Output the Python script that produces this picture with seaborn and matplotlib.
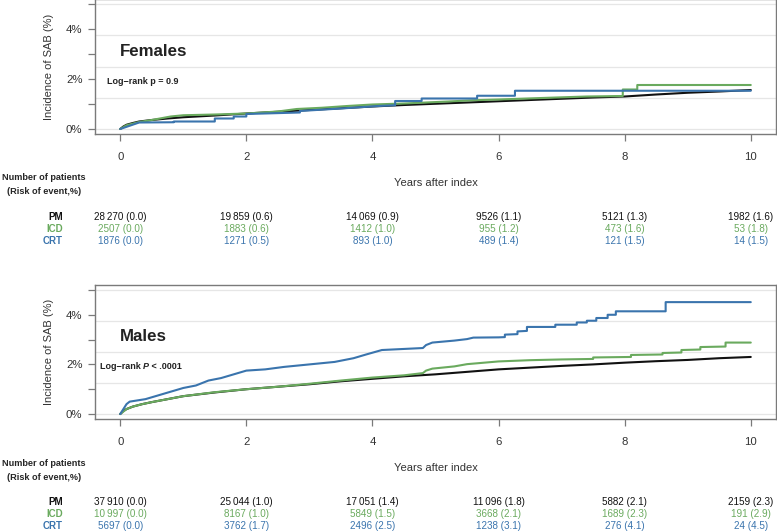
import numpy as np
import pandas as pd
import matplotlib
matplotlib.use("Agg")
import matplotlib.pyplot as plt
import matplotlib.transforms as mtransforms
import seaborn as sns

# ---- data ----
groups = ["PM", "ICD", "CRT"]
colors = {"PM": "#111111", "ICD": "#6aaa5e", "CRT": "#3a74ad"}
table_years = [0, 2, 4, 6, 8, 10]

# Females: cumulative incidence (%); repeated times mark the visible jumps
f_pm_t = [0, 0.05, 0.1, 0.2, 0.3, 0.5, 0.75, 1.0, 1.5, 2.0, 2.5, 3.0, 3.5, 4.0, 4.5, 5.0,
          5.5, 6.0, 6.5, 7.0, 7.5, 8.0, 8.5, 9.0, 9.5, 10.0]
f_pm_v = [0, 0.1, 0.17, 0.24, 0.3, 0.36, 0.42, 0.47, 0.54, 0.62, 0.69, 0.76, 0.83, 0.9, 0.96, 1.01,
          1.06, 1.11, 1.16, 1.21, 1.26, 1.3, 1.38, 1.45, 1.5, 1.56]
f_icd_t = [0, 0.1, 0.3, 0.5, 0.8, 1.0, 1.5, 2.0, 2.5, 2.8, 3.2, 3.6, 4.0, 4.5, 5.2, 5.6, 6.0,
           6.8, 7.4, 7.97, 7.97, 8.2, 8.2, 10.0]
f_icd_v = [0, 0.15, 0.28, 0.36, 0.5, 0.55, 0.58, 0.62, 0.7, 0.8, 0.85, 0.92, 0.98, 1.02, 1.1, 1.15, 1.18,
           1.25, 1.3, 1.32, 1.58, 1.58, 1.76, 1.76]
f_crt_t = [0, 0.3, 0.85, 0.85, 1.5, 1.5, 1.8, 1.8, 2.0, 2.0, 2.85, 2.85, 3.5, 4.1, 4.36, 4.36,
           4.78, 4.78, 5.66, 5.66, 6.26, 6.26, 10.0]
f_crt_v = [0, 0.26, 0.27, 0.3, 0.3, 0.42, 0.42, 0.5, 0.5, 0.6, 0.66, 0.72, 0.82, 0.92, 0.95, 1.12,
           1.12, 1.22, 1.22, 1.33, 1.33, 1.53, 1.53]

# Males
m_pm_t = [0, 0.05, 0.1, 0.2, 0.35, 0.5, 0.75, 1.0, 1.5, 2.0, 2.5, 3.0, 3.5, 4.0, 4.5, 5.0,
          5.5, 6.0, 6.5, 7.0, 7.5, 8.0, 8.5, 9.0, 9.5, 10.0]
m_pm_v = [0, 0.12, 0.2, 0.3, 0.4, 0.48, 0.6, 0.72, 0.87, 1.0, 1.1, 1.2, 1.32, 1.42, 1.52, 1.6,
          1.7, 1.8, 1.87, 1.94, 2.0, 2.07, 2.13, 2.18, 2.25, 2.3]
m_icd_t = [0, 0.1, 0.2, 0.35, 0.5, 0.75, 1.0, 1.5, 2.0, 2.5, 3.0, 3.5, 4.0, 4.5, 4.8, 4.85, 4.95,
           5.3, 5.5, 6.0, 6.5, 7.0, 7.5, 7.5, 8.1, 8.1, 8.6, 8.6, 8.9, 8.9, 9.2, 9.2, 9.6, 9.6, 10.0]
m_icd_v = [0, 0.2, 0.3, 0.4, 0.48, 0.6, 0.72, 0.88, 1.0, 1.1, 1.22, 1.35, 1.47, 1.56, 1.65, 1.75, 1.83,
           1.92, 2.01, 2.12, 2.17, 2.2, 2.22, 2.28, 2.3, 2.38, 2.4, 2.46, 2.48, 2.58, 2.6, 2.7, 2.72, 2.88, 2.88]
m_crt_t = [0, 0.1, 0.15, 0.4, 0.6, 0.8, 1.0, 1.2, 1.4, 1.6, 1.8, 2.0, 2.3, 2.6, 3.0, 3.4, 3.7, 3.9,
           4.15, 4.8, 4.85, 4.95, 5.3, 5.5, 5.6, 6.0, 6.1, 6.1, 6.3, 6.3, 6.45, 6.45, 6.9, 6.9,
           7.24, 7.24, 7.4, 7.4, 7.55, 7.55, 7.73, 7.73, 7.86, 7.86, 8.65, 8.65, 10.0]
m_crt_v = [0, 0.4, 0.5, 0.6, 0.75, 0.9, 1.05, 1.15, 1.35, 1.45, 1.6, 1.75, 1.8, 1.9, 2.0, 2.1, 2.25, 2.4,
           2.58, 2.66, 2.78, 2.88, 2.96, 3.02, 3.08, 3.09, 3.1, 3.2, 3.22, 3.33, 3.35, 3.51, 3.51, 3.6,
           3.6, 3.69, 3.69, 3.76, 3.76, 3.87, 3.87, 4.0, 4.0, 4.14, 4.14, 4.51, 4.51]

# numbers at risk and risk of event (%)
f_pm_n = [28270, 19859, 14069, 9526, 5121, 1982]
f_pm_r = [0.0, 0.6, 0.9, 1.1, 1.3, 1.6]
f_icd_n = [2507, 1883, 1412, 955, 473, 53]
f_icd_r = [0.0, 0.6, 1.0, 1.2, 1.6, 1.8]
f_crt_n = [1876, 1271, 893, 489, 121, 14]
f_crt_r = [0.0, 0.5, 1.0, 1.4, 1.5, 1.5]

m_pm_n = [37910, 25044, 17051, 11096, 5882, 2159]
m_pm_r = [0.0, 1.0, 1.4, 1.8, 2.1, 2.3]
m_icd_n = [10997, 8167, 5849, 3668, 1689, 191]
m_icd_r = [0.0, 1.0, 1.5, 2.1, 2.3, 2.9]
m_crt_n = [5697, 3762, 2496, 1238, 276, 24]
m_crt_r = [0.0, 1.7, 2.5, 3.1, 4.1, 4.5]


def curves_df(pm_t, pm_v, icd_t, icd_v, crt_t, crt_v):
    parts = []
    for g, t, v in [("PM", pm_t, pm_v), ("ICD", icd_t, icd_v), ("CRT", crt_t, crt_v)]:
        parts.append(pd.DataFrame({"years": t, "inc": v, "group": g}))
    return pd.concat(parts, ignore_index=True)


females = curves_df(f_pm_t, f_pm_v, f_icd_t, f_icd_v, f_crt_t, f_crt_v)
males = curves_df(m_pm_t, m_pm_v, m_icd_t, m_icd_v, m_crt_t, m_crt_v)

f_table = {"PM": (f_pm_n, f_pm_r), "ICD": (f_icd_n, f_icd_r), "CRT": (f_crt_n, f_crt_r)}
m_table = {"PM": (m_pm_n, m_pm_r), "ICD": (m_icd_n, m_icd_r), "CRT": (m_crt_n, m_crt_r)}

# ---- style ----
sns.set_style("white")
plt.rcParams["font.family"] = ["Liberation Sans", "DejaVu Sans"]
plt.rcParams["axes.edgecolor"] = "#7a7a7a"
plt.rcParams["axes.linewidth"] = 1.0

fig = plt.figure(figsize=(7.77, 5.31), dpi=100)
W, H = 777, 531


def fmt_n(n):
    # thousands separated by a thin space only from five digits on
    if n >= 10000:
        return f"{n:,}".replace(",", "\u2009")
    return str(n)


def draw_panel(ax, df, title, table, px_num, px_years, px_rows, pval):
    for g in groups:
        sns.lineplot(data=df[df["group"] == g], x="years", y="inc", color=colors[g],
                     estimator=None, sort=False, lw=1.5, ax=ax, zorder=3)
    ax.set_xlim(-0.4, 10.4)
    ax.set_ylim(-0.2, 5.2)
    for yv in [0, 1.25, 2.5, 3.75, 5.0]:
        ax.axhline(yv, color="#e6e6e6", lw=0.9, zorder=1)
    ax.set_xticks([0, 2, 4, 6, 8, 10])
    ax.set_yticks([0, 1, 2, 3, 4, 5])
    ax.set_yticklabels(["0%", "", "2%", "", "4%", ""])
    ax.tick_params(axis="both", which="major", direction="out", length=5, width=0.9,
                   color="#7a7a7a", labelsize=8.2, labelcolor="#333333", left=True, bottom=True)
    ax.tick_params(axis="x", pad=8)
    ax.tick_params(axis="y", pad=4)
    ax.set_xlabel("")
    ax.set_ylabel("Incidence of SAB (%)", fontsize=8, color="#333333")
    ax.yaxis.set_label_coords(-0.06, 0.5)

    ax.text(0, 3.12, title, fontsize=12.2, fontweight="bold", color="#222222",
            ha="left", va="center")
    if pval is None:
        ax.text(-0.21, 1.92, "Log\u2212rank p = 0.9", fontsize=6.5, fontweight="bold",
                color="#222222", ha="left", va="center")
    else:
        t1 = ax.text(-0.32, 1.92, "Log\u2212rank ", fontsize=6.5, fontweight="bold",
                     color="#222222", ha="left", va="center")
        t2 = ax.annotate("P", xy=(1, 0.5), xycoords=t1, va="center", ha="left",
                         fontsize=6.5, fontweight="bold", fontstyle="italic", color="#222222")
        ax.annotate(" < " + pval, xy=(1, 0.5), xycoords=t2, va="center", ha="left",
                    fontsize=6.5, fontweight="bold", color="#222222")

    # risk table
    trans = mtransforms.blended_transform_factory(ax.transData, fig.transFigure)
    fig.text(44 / W, 1 - px_num / H, "Number of patients", fontsize=6.6, fontweight="bold",
             ha="center", va="center")
    fig.text(44 / W, 1 - (px_num + 13) / H, "(Risk of event,%)", fontsize=6.6, fontweight="bold",
             ha="center", va="center")
    ax.text(5, 1 - px_years / H, "Years after index", transform=trans, fontsize=8,
            color="#333333", ha="center", va="center")
    for g, py in zip(groups, px_rows):
        c = colors[g]
        fig.text(63 / W, 1 - py / H, g, fontsize=7, fontweight="bold", color=c,
                 ha="right", va="center")
        ns, rs = table[g]
        for yr, n, r in zip(table_years, ns, rs):
            ax.text(yr, 1 - py / H, f"{fmt_n(n)} ({r:.1f})", transform=trans, fontsize=7.1,
                    color=c, ha="center", va="center", clip_on=False)


ax1 = fig.add_axes([95 / W, 1 - 134 / H, 681 / W, 135 / H])
ax2 = fig.add_axes([95 / W, 1 - 419 / H, 681 / W, 134 / H])

draw_panel(ax1, females, "Females", f_table, 178, 183, [217, 229, 241], None)
draw_panel(ax2, males, "Males", m_table, 464, 468, [502, 514, 526], ".0001")

for ax in (ax1, ax2):
    for s in ax.spines.values():
        s.set_visible(True)
        s.set_color("#7a7a7a")

fig.savefig("out.png", dpi=100)
